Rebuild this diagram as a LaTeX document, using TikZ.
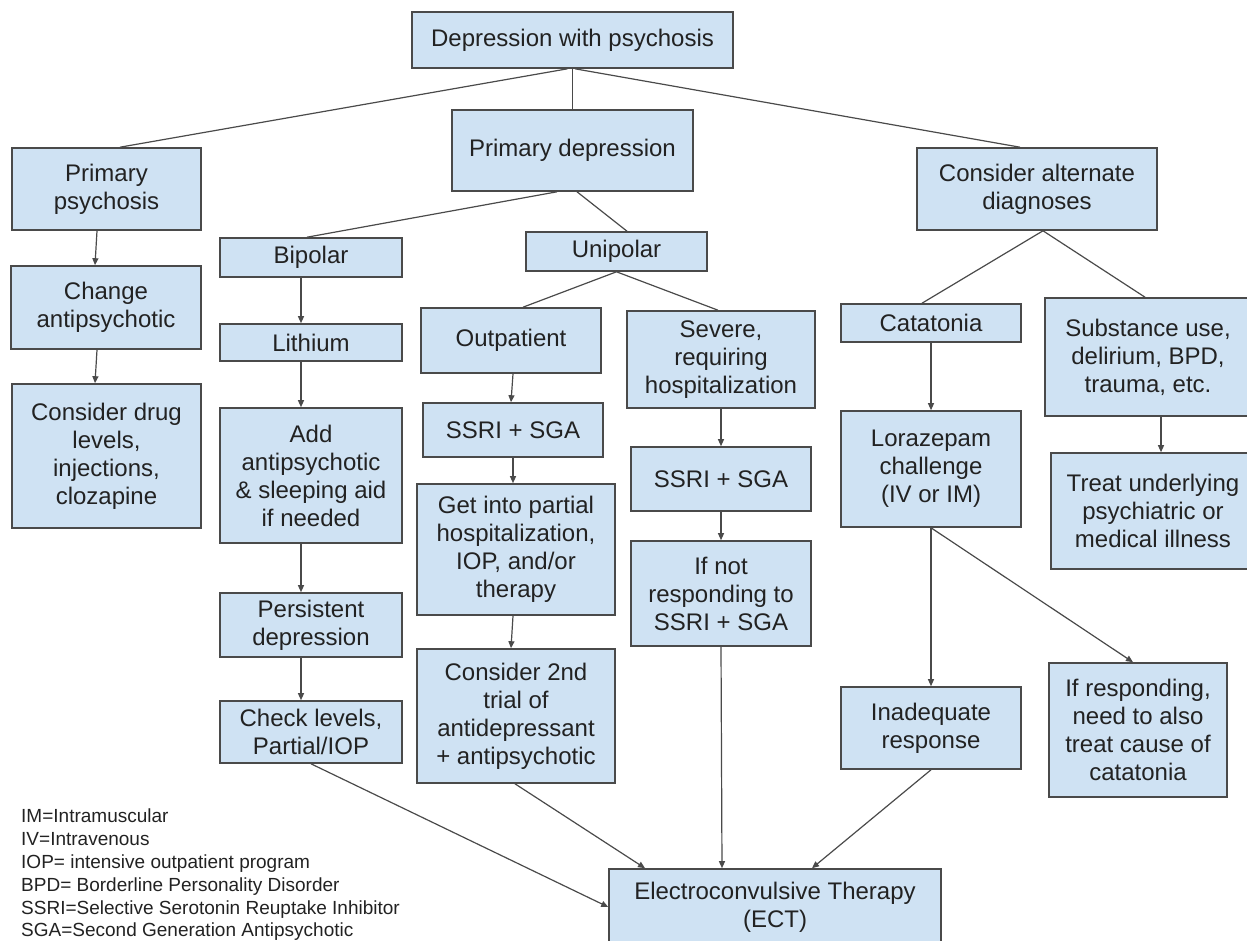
\documentclass[tikz,border=0pt]{standalone}
\usepackage{fontspec}
\setmainfont{Liberation Sans}
\usetikzlibrary{arrows.meta}
\definecolor{boxfill}{HTML}{CFE2F3}
\definecolor{boxline}{HTML}{4A4A4A}
\definecolor{ink}{HTML}{222222}
\begin{document}
\begin{tikzpicture}[x=1pt,y=-1pt,
    box/.style={draw=boxline,fill=boxfill,line width=1.6pt,inner sep=0pt,align=center,
        text=ink,font=\fontsize{24}{28}\selectfont},
    link/.style={draw=boxline,line width=1.2pt},
    flow/.style={link,-{Triangle[length=7pt,width=6pt]}},
    legend/.style={text=ink,inner sep=0pt,anchor=base west,font=\fontsize{19}{23}\selectfont}]
            \useasboundingbox (0,0) rectangle (1247,941);
            \clip (0,0) rectangle (1247,941);

            % top levels
            \node[box,minimum width=321pt,minimum height=56pt] (top) at (572.5,40) {Depression with psychosis};
            \node[box,minimum width=189pt,minimum height=82pt] (pp) at (106.5,189) {Primary\\psychosis};
            \node[box,minimum width=241pt,minimum height=81pt] (pd) at (572.5,150.5) {Primary depression};
            \node[box,minimum width=240pt,minimum height=82pt] (cad) at (1037,189) {Consider alternate\\diagnoses};

            % primary psychosis
            \node[box,minimum width=190pt,minimum height=83pt] (chg) at (106,307.5) {Change\\antipsychotic};
            \node[box,minimum width=189pt,minimum height=144pt] (cdl) at (106.5,456) {Consider drug\\levels,\\injections,\\clozapine};

            % bipolar
            \node[box,minimum width=182pt,minimum height=39pt] (bip) at (311,257.5) {Bipolar};
            \node[box,minimum width=182pt,minimum height=37pt] (lith) at (311,342.5) {Lithium};
            \node[box,minimum width=182pt,minimum height=135pt] (add) at (311,475.5) {Add\\antipsychotic\\\& sleeping aid\\if needed};
            \node[box,minimum width=182pt,minimum height=64pt] (pers) at (311,625) {Persistent\\depression};
            \node[box,minimum width=182pt,minimum height=62pt] (chk) at (311,732) {Check levels,\\Partial/IOP};

            % unipolar
            \node[box,minimum width=181pt,minimum height=39pt] (uni) at (616.5,251.5) {Unipolar};
            \node[box,minimum width=180pt,minimum height=65pt] (outp) at (511,340.5) {Outpatient};
            \node[box,minimum width=180pt,minimum height=54pt] (ssl) at (513,430) {SSRI + SGA};
            \node[box,minimum width=198pt,minimum height=131pt] (gip) at (516,549.5) {Get into partial\\hospitalization,\\IOP, and/or\\therapy};
            \node[box,minimum width=198pt,minimum height=134pt] (c2t) at (516,716) {Consider 2nd\\trial of\\antidepressant\\+ antipsychotic};
            \node[box,minimum width=188pt,minimum height=97pt] (sev) at (721,359.5) {Severe,\\requiring\\hospitalization};
            \node[box,minimum width=180pt,minimum height=64pt] (ssr) at (721,479) {SSRI + SGA};
            \node[box,minimum width=180pt,minimum height=105pt] (ifn) at (721,593.5) {If not\\responding to\\SSRI + SGA};

            % alternate diagnoses
            \node[box,minimum width=180pt,minimum height=38pt] (cat) at (931,323) {Catatonia};
            \node[box,minimum width=206pt,minimum height=118pt] (sub) at (1148,357) {Substance use,\\delirium, BPD,\\trauma, etc.};
            \node[box,minimum width=180pt,minimum height=116pt] (lor) at (931,469) {Lorazepam\\challenge\\(IV or IM)};
            \node[box,minimum width=204pt,minimum height=116pt] (trt) at (1153,511) {Treat underlying\\psychiatric or\\medical illness};
            \node[box,minimum width=180pt,minimum height=82pt] (inad) at (931,728) {Inadequate\\response};
            \node[box,minimum width=178pt,minimum height=134pt] (ifr) at (1138,730) {If responding,\\need to also\\treat cause of\\catatonia};

            % end point
            \node[box,minimum width=332pt,minimum height=76pt] (ect) at (775,907) {Electroconvulsive Therapy\\(ECT)};

            % branches
            \draw[link] ([xshift=-5pt]top.south) -- ([xshift=13.5pt]pp.north);
            \draw[link] (top.south) -- (pd.north);
            \draw[link] ([xshift=2.5pt]top.south) -- ([xshift=-17pt]cad.north);
            \draw[link] ([xshift=-15.5pt]pd.south) -- ([xshift=-4pt]bip.north);
            \draw[link] ([xshift=4.5pt]pd.south) -- ([xshift=10.5pt]uni.north);
            \draw[link] (uni.south) -- ([xshift=12pt]outp.north);
            \draw[link] (uni.south) -- ([xshift=-3pt]sev.north);
            \draw[link] ([xshift=6pt]cad.south) -- ([xshift=-9pt]cat.north);
            \draw[link] ([xshift=6pt]cad.south) -- ([xshift=-3pt]sub.north);

            % steps
            \draw[flow] ([xshift=-9.5pt]pp.south) -- ([xshift=-11pt]chg.north);
            \draw[flow] ([xshift=-9pt]chg.south) -- ([xshift=-11.5pt]cdl.north);
            \draw[flow] ([xshift=-10pt]bip.south) -- ([xshift=-10pt]lith.north);
            \draw[flow] ([xshift=-10pt]lith.south) -- ([xshift=-10pt]add.north);
            \draw[flow] ([xshift=-10pt]add.south) -- ([xshift=-10pt]pers.north);
            \draw[flow] ([xshift=-10pt]pers.south) -- ([xshift=-10pt]chk.north);
            \draw[flow] ([xshift=2pt]outp.south) -- ([xshift=-2pt]ssl.north);
            \draw[flow] (ssl.south) -- ([xshift=-3pt]gip.north);
            \draw[flow] ([xshift=-3pt]gip.south) -- ([xshift=-5pt]c2t.north);
            \draw[flow] (sev.south) -- (ssr.north);
            \draw[flow] (ssr.south) -- (ifn.north);
            \draw[flow] (cat.south) -- (lor.north);
            \draw[flow] (lor.south) -- (inad.north);
            \draw[flow] (lor.south) -- ([xshift=-5pt]ifr.north);
            \draw[flow] ([xshift=13pt]sub.south) -- ([xshift=8pt]trt.north);

            % into ECT
            \draw[flow] (chk.south) -- (ect.west);
            \draw[flow] ([xshift=-1pt]c2t.south) -- ([xshift=-130pt]ect.north);
            \draw[flow] (ifn.south) -- ([xshift=-53pt]ect.north);
            \draw[flow] (inad.south) -- ([xshift=37pt]ect.north);

            % abbreviations
            \node[legend] (lg1) at (21,822) {IM=Intramuscular};
            \node[legend] (lg2) at (21,845) {IV=Intravenous};
            \node[legend] (lg3) at (21,868) {IOP= intensive outpatient program};
            \node[legend] (lg4) at (21,891) {BPD= Borderline Personality Disorder};
            \node[legend] (lg5) at (21,914) {SSRI=Selective Serotonin Reuptake Inhibitor};
            \node[legend] (lg6) at (21,936.5) {SGA=Second Generation Antipsychotic};
        \end{tikzpicture}
\end{document}
